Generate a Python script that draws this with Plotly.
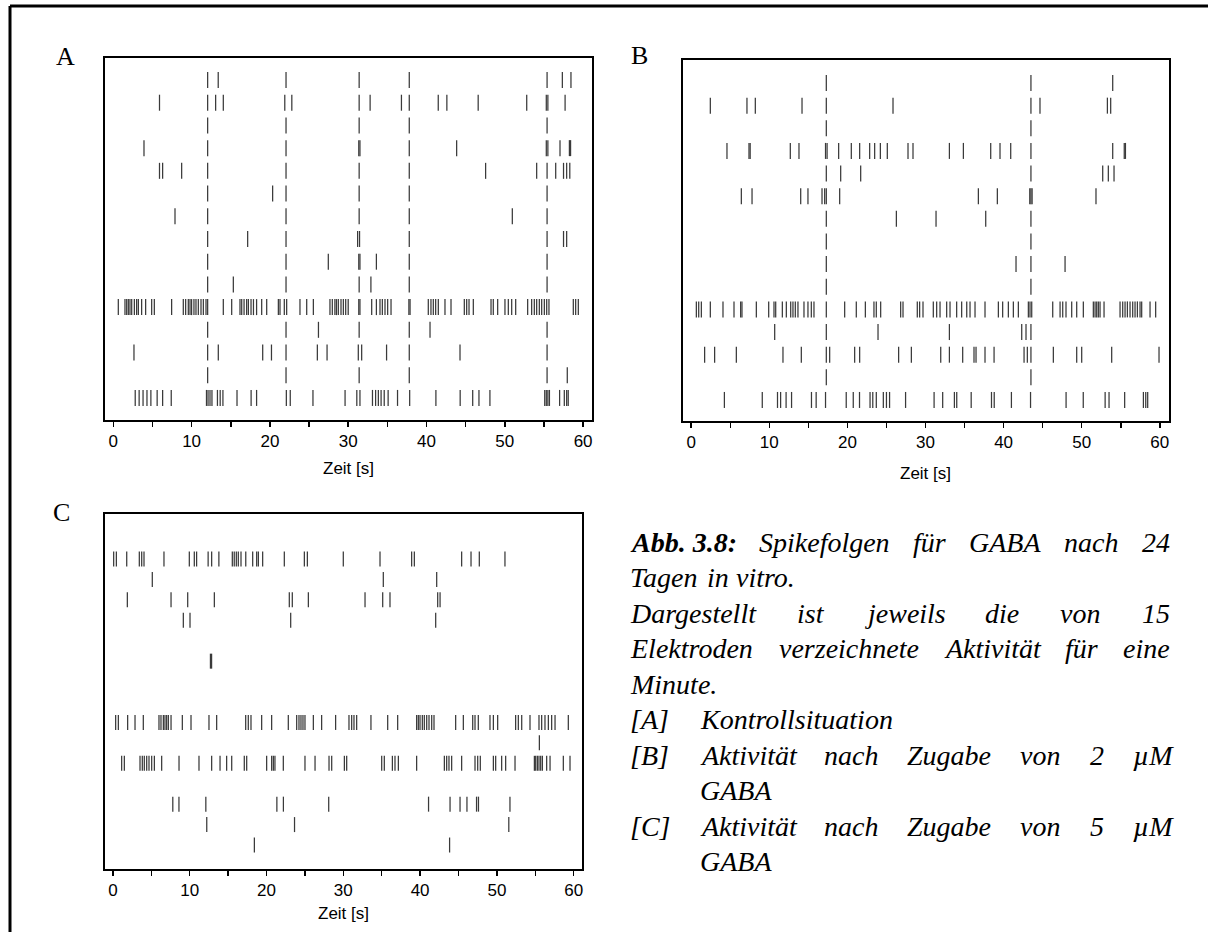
import plotly.graph_objects as go

W, H = 1208, 932

# ---------------- data (spike times in s, one list per electrode row, top to bottom) -------------
x_tickvals = [0, 10, 20, 30, 40, 50, 60]
axis_title = "Zeit [s]"
panel_letters = ["A", "B", "C"]

A_rows = [
    [12.05, 13.4, 22.06, 31.4, 37.8, 55.4, 57.35, 58.45],
    [5.9, 12.05, 13.07, 14.05, 21.9, 22.8, 31.4, 32.8, 36.8, 37.8, 41.5, 42.6, 46.6, 52.8, 55.3, 55.5, 57.7],
    [12.05, 22.06, 31.4, 37.8, 55.4],
    [3.92, 12.05, 22.06, 31.35, 31.5, 37.8, 43.85, 55.3, 55.5, 57.05, 58.25, 58.4],
    [5.9, 6.3, 8.73, 12.05, 22.06, 31.4, 37.8, 47.55, 54.07, 55.4, 56.5, 57.5, 57.9, 58.3],
    [12.05, 20.35, 22.06, 31.4, 37.8, 55.4],
    [7.88, 12.05, 22.06, 31.4, 37.8, 50.96, 55.4],
    [12.05, 17.16, 22.06, 31.2, 31.45, 37.8, 55.4, 57.5, 57.9],
    [12.05, 22.06, 27.46, 31.35, 31.5, 33.6, 37.8, 55.4],
    [12.05, 15.33, 22.06, 31.4, 32.9, 37.8, 55.4],
    [0.64, 1.49, 1.71, 1.92, 2.13, 2.35, 2.69, 2.98, 3.2, 3.62, 4.13, 4.9, 5.24, 7.45, 8.94, 9.24,
     9.58, 9.8, 10.0, 10.3, 10.56, 10.86, 11.2, 11.5, 11.84, 12.05, 14.05, 15.12, 16.18, 16.4, 16.7,
     17.03, 17.25, 17.59, 17.9, 18.3, 18.95, 19.59, 21.08, 21.29, 21.84, 22.14, 23.84, 24.7, 25.55,
     27.67, 27.97, 28.3, 28.5, 28.74, 29.08, 29.38, 29.68, 30.0, 31.35, 31.5, 33.0, 33.6, 34.06,
     34.36, 34.7, 35.04, 35.47, 37.75, 37.9, 40.23, 40.57, 40.87, 41.17, 41.51, 42.36, 43.13, 44.83,
     45.13, 45.43, 45.98, 48.24, 48.53, 49.09, 50.02, 50.45, 50.88, 51.39, 52.92, 53.43, 53.77,
     54.07, 54.41, 54.71, 55.05, 55.35, 55.64, 58.75, 59.05, 59.39],
    [12.05, 22.06, 26.2, 31.4, 37.8, 40.45, 55.4],
    [2.64, 12.05, 13.41, 19.08, 20.2, 22.06, 26.06, 27.3, 31.29, 31.72, 34.9, 37.8, 44.28, 55.4],
    [12.05, 22.06, 31.4, 37.8, 55.4, 57.98],
    [2.8, 3.3, 3.8, 4.3, 4.8, 5.6, 6.3, 7.4, 11.9, 12.1, 12.35, 12.6, 13.3, 13.65, 14.0, 15.8, 17.6,
     18.3, 22.1, 22.6, 25.5, 29.6, 31.1, 31.5, 33.1, 33.5, 33.85, 34.2, 34.6, 35.1, 36.3, 37.85, 41.2,
     44.3, 45.9, 46.7, 48.1, 55.1, 55.3, 55.5, 55.7, 57.0, 57.6, 57.9, 58.1],
]

B_rows = [
    [17.3, 43.5, 53.97],
    [2.45, 7.14, 8.21, 14.19, 17.3, 25.84, 43.5, 44.66, 53.29, 53.71],
    [17.3, 43.5],
    [4.58, 7.4, 7.55, 12.69, 13.8, 17.2, 17.4, 18.88, 20.5, 21.57, 22.85, 23.49, 24.22, 25.11, 27.76,
     28.4, 33.06, 34.85, 38.35, 39.54, 40.91, 43.5, 53.97, 55.45, 55.6],
    [17.3, 19.14, 21.7, 43.5, 52.69, 53.41, 54.14],
    [6.42, 7.79, 14.02, 14.95, 16.75, 17.09, 17.3, 19.01, 36.77, 39.2, 43.35, 43.5, 43.65, 51.83],
    [17.3, 26.27, 31.35, 37.71, 43.5],
    [17.3, 43.5],
    [17.3, 41.59, 43.5, 47.87],
    [17.3, 43.5],
    [0.66, 0.96, 1.3, 2.45, 4.07, 5.48, 6.33, 6.5, 8.34, 9.92, 10.6, 10.82, 11.67, 12.18, 12.74, 13.03,
     13.33, 13.67, 14.44, 14.95, 15.38, 15.72, 17.3, 19.65, 21.14, 22.3, 23.4, 23.7, 24.26, 26.82,
     27.12, 28.95, 29.25, 29.68, 31.0, 31.43, 31.86, 32.71, 33.14, 33.99, 34.63, 35.28, 35.7, 36.34,
     37.62, 39.33, 39.88, 40.61, 41.25, 41.89, 43.17, 43.38, 43.6, 46.29, 47.23, 47.57, 47.99, 48.72,
     49.36, 50.21, 51.49, 51.71, 51.92, 52.13, 52.35, 52.86, 54.91, 55.25, 55.55, 55.85, 56.19,
     56.53, 56.83, 57.13, 57.47, 57.68, 58.75, 59.47],
    [10.69, 17.3, 23.92, 33.06, 42.32, 42.87, 43.5],
    [1.72, 3.0, 5.78, 11.75, 14.1, 17.3, 17.73, 20.93, 21.57, 26.56, 28.19, 31.95, 33.06, 34.76, 36.21,
     36.47, 37.62, 38.78, 42.62, 43.04, 43.5, 46.37, 49.36, 50.0, 53.84, 59.9],
    [17.3, 43.5],
    [4.25, 9.1, 11.05, 11.45, 12.15, 12.85, 15.4, 16.0, 17.2, 19.85, 20.75, 21.55, 22.9, 23.25, 23.7,
     24.6, 25.0, 25.4, 27.45, 31.1, 32.2, 33.7, 34.0, 35.85, 38.45, 38.8, 41.0, 43.45, 48.0, 50.2,
     53.0, 53.5, 55.5, 57.9, 58.2, 58.45],
]

C_rows = [
    [0.1, 0.45, 1.8, 3.44, 3.75, 4.05, 6.65, 9.95, 10.6, 10.9, 12.4, 12.86, 13.8, 15.55, 15.8, 16.07,
     16.33, 16.68, 17.3, 18.2, 18.72, 18.94, 19.5, 22.32, 24.93, 25.32, 30.0, 34.78, 38.9, 39.25,
     45.41, 46.63, 47.71, 51.05],
    [5.13, 35.21, 42.16],
    [1.88, 7.57, 9.74, 13.21, 22.97, 23.36, 25.45, 32.83, 35.13, 36.08, 42.29, 42.6],
    [9.17, 10.04, 23.15, 42.03],
    [],
    [12.7, 12.85],
    [],
    [],
    [0.36, 0.71, 1.92, 2.88, 3.96, 6.0, 6.26, 6.57, 6.78, 7.0, 7.22, 7.57, 9.04, 10.17, 12.51, 13.51,
     17.29, 17.63, 17.98, 19.37, 20.67, 22.84, 23.93, 24.23, 24.49, 24.75, 25.01, 26.1, 27.18, 29.0,
     30.74, 31.09, 31.39, 31.74, 33.6, 35.78, 37.08, 39.55, 39.77, 39.99, 40.29, 40.55, 40.86, 41.16,
     41.51, 41.81, 44.63, 45.63, 46.85, 47.15, 47.58, 49.1, 49.54, 50.1, 52.44, 52.79, 53.23, 54.31,
     55.48, 55.83, 56.26, 56.7, 57.13, 57.57, 59.3],
    [55.53],
    [1.14, 1.49, 3.53, 3.83, 4.09, 4.4, 4.7, 5.05, 5.4, 6.35, 8.61, 11.21, 12.86, 13.95, 14.81, 15.47,
     17.11, 17.42, 20.02, 20.67, 20.89, 21.1, 22.19, 25.01, 26.32, 28.14, 28.49, 30.14, 30.44, 35.0,
     35.34, 36.39, 36.73, 37.17, 39.55, 43.16, 43.46, 43.76, 44.11, 45.41, 47.15, 47.5, 47.84, 49.54,
     49.84, 50.62, 51.14, 52.36, 54.88, 55.05, 55.27, 55.48, 55.7, 55.92, 56.48, 56.92, 58.65, 59.52],
    [],
    [7.8, 8.6, 12.1, 21.35, 22.2, 28.1, 41.1, 43.9, 45.2, 46.1, 47.35, 47.6, 51.7],
    [12.22, 23.65, 51.55],
    [18.42, 43.84],
]

caption_head = "Abb. 3.8:"
caption_lines = ["Spikefolgen für GABA nach 24", "Tagen in vitro.",
                 "Dargestellt ist jeweils die von 15",
                 "Elektroden verzeichnete Aktivität für eine", "Minute."]
caption_items = [("[A]", ["Kontrollsituation"]),
                 ("[B]", ["Aktivität nach Zugabe von 2 µM", "GABA"]),
                 ("[C]", ["Aktivität nach Zugabe von 5 µM", "GABA"])]

# ---------------- layout helpers (pixel geometry) ----------------
def px(x):
    return x / W


def py(y):
    return 1 - y / H


SANS = "Liberation Sans, Arial, sans-serif"
SERIF = "Liberation Serif, Times New Roman, serif"

panels = [
    # rows, box (l, r, t, b), zero-px, px per s, row1 px, row spacing, half tick px, letter xy, title y
    (A_rows, (105, 592, 58, 420), 113.3, 7.83, 80, 22.71, 8.0, (65, 57), 468),
    (B_rows, (683, 1169, 60, 421), 691.2, 7.81, 83, 22.64, 8.0, (639, 55), 474),
    (C_rows, (105, 582, 514, 869), 112.9, 7.68, 559, 20.43, 7.5, (61, 512), 913),
]

fig = go.Figure()
layout_axes = {}
annotations = []

for i, (rows, (l, r, t, b), x0, ppu, y1, dy, half, (lx, ly), ty) in enumerate(panels):
    sfx = "" if i == 0 else str(i + 1)
    xs, ys = [], []
    h = half / dy
    for k, row in enumerate(rows, start=1):
        for tt in row:
            xs += [tt, tt, None]
            ys += [k - h, k + h, None]
    fig.add_trace(go.Scatter(x=xs, y=ys, mode="lines",
                             line=dict(color="#3a3a3a", width=1.25),
                             xaxis="x" + sfx, yaxis="y" + sfx,
                             hoverinfo="skip", showlegend=False))
    layout_axes["xaxis" + sfx] = dict(
        domain=[px(l), px(r)], anchor="y" + sfx,
        range=[(l - x0) / ppu, (r - x0) / ppu],
        tickvals=x_tickvals, ticks="outside", ticklen=5, tickwidth=1.5, tickcolor="black",
        minor=dict(tick0=0, dtick=5, ticks="outside", ticklen=5, tickwidth=1.5, tickcolor="black"),
        showline=True, linewidth=2, linecolor="black", mirror=True,
        showgrid=False, zeroline=False,
        tickfont=dict(family=SANS, size=17, color="black"),
    )
    layout_axes["yaxis" + sfx] = dict(
        domain=[py(b), py(t)], anchor="x" + sfx,
        range=[1 + (b - y1) / dy, 1 + (t - y1) / dy],
        showticklabels=False, ticks="", showgrid=False, zeroline=False,
        showline=True, linewidth=2, linecolor="black", mirror=True,
    )
    annotations.append(dict(text=panel_letters[i], x=px(lx), y=py(ly), xref="paper", yref="paper",
                            xanchor="center", yanchor="middle", showarrow=False,
                            font=dict(family=SERIF, size=26, color="black")))
    annotations.append(dict(text=axis_title, x=px(x0 + 30 * ppu), y=py(ty), xref="paper",
                            yref="paper", xanchor="center", yanchor="middle", showarrow=False,
                            font=dict(family=SANS, size=17, color="black")))

# ---------------- caption (justified like the original) ----------------
TI = {' ': 250, '.': 250, ':': 333, '[': 389, ']': 389, 'µ': 500, 'ä': 500, 'ü': 500,
      'A': 611, 'B': 611, 'C': 667, 'D': 722, 'E': 611, 'G': 722, 'K': 667, 'M': 833, 'T': 556,
      'Z': 556, 'a': 500, 'b': 500, 'c': 444, 'd': 500, 'e': 444, 'f': 278, 'g': 500, 'h': 500,
      'i': 278, 'j': 278, 'k': 444, 'l': 278, 'm': 722, 'n': 500, 'o': 500, 'p': 500, 'r': 389,
      's': 389, 't': 278, 'u': 500, 'v': 444, 'w': 667, 'x': 444, 'y': 444, 'z': 389}
BI = {'A': 667, 'b': 500, '.': 250, ':': 333, ' ': 250}

FS = 28
CAP_L, CAP_R, CAP_IND = 630, 1170, 700
LINE0, LSP = 542, 35.5


def wwidth(word, bold=False):
    tab = BI if bold else TI
    return sum(tab.get(ch, 500) for ch in word) * FS / 1000.0


def put_word(word, x, y, bold=False):
    annotations.append(dict(text=word, x=px(x - 2), y=py(y), xref="paper", yref="paper",
                            xanchor="left", yanchor="middle", showarrow=False,
                            font=dict(family=SERIF, size=FS, color="black", style="italic",
                                      weight="bold" if bold else "normal")))


def put_line(words, y, left, right, justify):
    widths = [wwidth(w, b) for w, b in words]
    if justify and len(words) > 1:
        gap = (right - left - sum(widths)) / (len(words) - 1)
    else:
        gap = 0.25 * FS
    x = left
    for (w, b), wd in zip(words, widths):
        put_word(w, x, y, b)
        x += wd + gap


lines = []
lines.append(([(caption_head, True)] + [(w, False) for w in caption_lines[0].split()], CAP_L, True))
lines.append(([(w, False) for w in caption_lines[1].split()], CAP_L, False))
lines.append(([(w, False) for w in caption_lines[2].split()], CAP_L, True))
lines.append(([(w, False) for w in caption_lines[3].split()], CAP_L, True))
lines.append(([(w, False) for w in caption_lines[4].split()], CAP_L, False))
yy = LINE0
for words, left, just in lines:
    put_line(words, yy, left, CAP_R, just)
    yy += LSP
for tag, texts in caption_items:
    put_word(tag, CAP_L, yy)
    for j, tx in enumerate(texts):
        just = (j < len(texts) - 1)
        put_line([(w, False) for w in tx.split()], yy, CAP_IND, CAP_R, just)
        yy += LSP

# ---------------- page frame ----------------
shapes = [
    dict(type="line", xref="paper", yref="paper", x0=px(10), x1=1.0, y0=py(6), y1=py(6),
         line=dict(color="black", width=3)),
    dict(type="line", xref="paper", yref="paper", x0=px(10), x1=px(10), y0=py(6), y1=0,
         line=dict(color="black", width=3)),
]

fig.update_layout(width=W, height=H, autosize=False,
                  margin=dict(l=0, r=0, t=0, b=0),
                  paper_bgcolor="white", plot_bgcolor="white",
                  annotations=annotations, shapes=shapes, showlegend=False,
                  **layout_axes)

fig.write_html("out.html", config={"displayModeBar": False, "staticPlot": True},
               post_script="document.body.style.margin='0px';document.body.style.padding='0px';"
                           "document.body.style.overflow='hidden';")
